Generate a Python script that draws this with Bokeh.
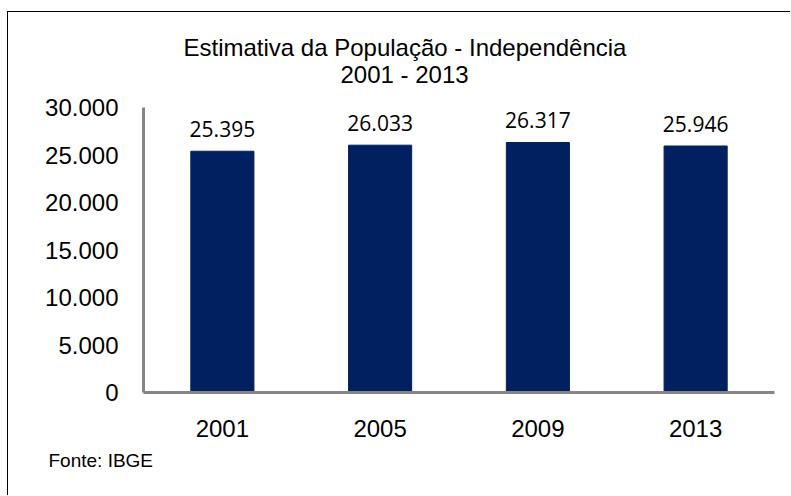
from bokeh.plotting import figure
from bokeh.models import Title, FixedTicker, ColumnDataSource, FactorRange, Range1d
from bokeh.core.properties import value
from bokeh.embed import file_html
from bokeh.resources import INLINE

years = ["2001", "2005", "2009", "2013"]
population = [25395, 26033, 26317, 25946]
value_labels = ["25.395", "26.033", "26.317", "25.946"]
y_ticks = [0, 5000, 10000, 15000, 20000, 25000, 30000]
y_tick_labels = ["0", "5.000", "10.000", "15.000", "20.000", "25.000", "30.000"]
title_line1 = "Estimativa da População - Independência"
title_line2 = "2001 - 2013"
source_note = "Fonte: IBGE"

src = ColumnDataSource(dict(x=years, top=population, lab=value_labels))

p = figure(x_range=FactorRange(*years, range_padding=0), y_range=Range1d(0, 30000),
           width=783, height=484, output_backend="svg", toolbar_location=None,
           min_border_left=135, min_border_right=17, min_border_top=95, min_border_bottom=104)
p.styles = {"border-left": "1px solid black", "border-top": "1px solid black",
            "margin-left": "7px", "margin-top": "11px"}
p.outline_line_color = None
p.xgrid.grid_line_color = None
p.ygrid.grid_line_color = None
p.background_fill_color = "white"
p.border_fill_color = "white"

p.vbar(x="x", top="top", width=0.4, source=src, fill_color="#002060", line_color="#002060")
p.text(x="x", y="top", text="lab", source=src, text_align="center", text_baseline="alphabetic",
       y_offset=-22, text_font=value("Open Sans"), text_font_size="21px", text_color="#000000")

for ax in (p.xaxis[0], p.yaxis[0]):
    ax.axis_line_color = "#868686"
    ax.axis_line_width = 3
    ax.major_tick_line_color = None
    ax.minor_tick_line_color = None
    ax.major_label_text_font = "Liberation Sans"
    ax.major_label_text_font_size = "24px"
    ax.major_label_text_color = "#000000"

p.yaxis[0].ticker = FixedTicker(ticks=y_ticks)
p.yaxis[0].major_label_overrides = {t: l for t, l in zip(y_ticks, y_tick_labels)}
p.yaxis[0].major_label_standoff = 19
p.xaxis[0].major_label_standoff = 21

# spacer between frame and the title lines
p.add_layout(Title(text=" ", text_font_size="10px", standoff=7), "above")
p.add_layout(Title(text=title_line2, align="left", offset=197, standoff=0,
                   text_font="Liberation Sans", text_font_size="24px",
                   text_font_style="normal", text_color="#000000"), "above")
p.add_layout(Title(text=title_line1, align="left", offset=40, standoff=-4,
                   text_font="Liberation Sans", text_font_size="24px",
                   text_font_style="normal", text_color="#000000"), "above")

p.add_layout(Title(text=source_note, align="left", offset=-95, standoff=20,
                   vertical_align="top",
                   text_font="Liberation Sans", text_font_size="19px",
                   text_font_style="normal", text_color="#000000"), "below")

open("out.html", "w").write(file_html(p, INLINE))
